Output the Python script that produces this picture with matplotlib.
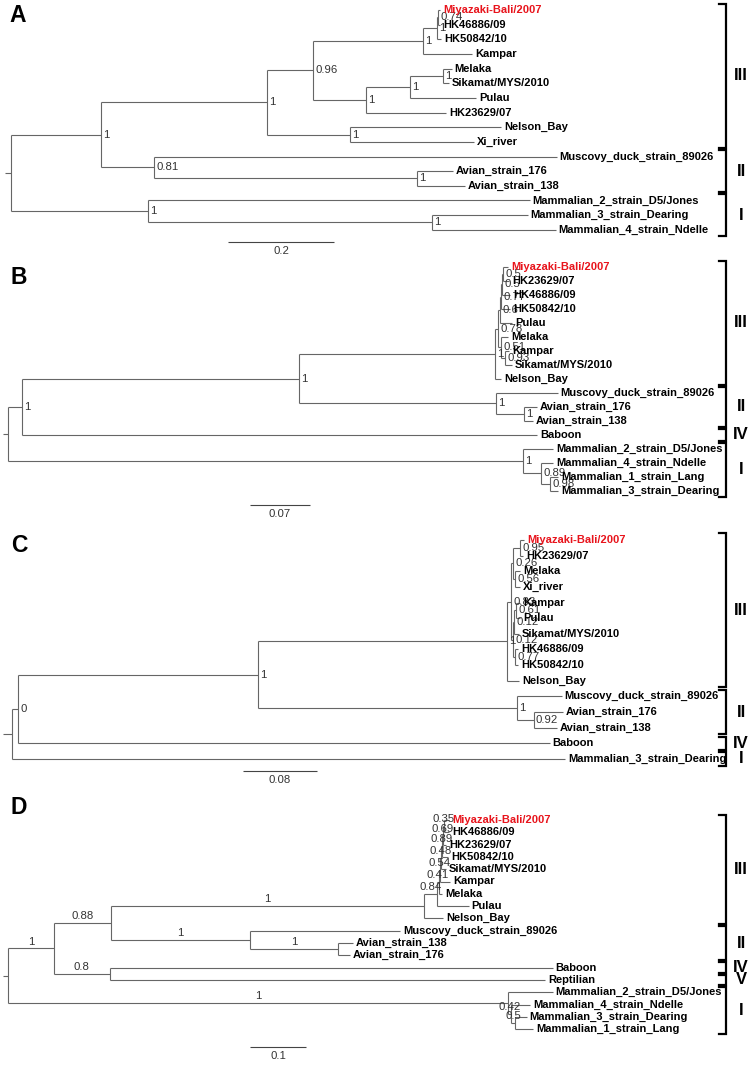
import matplotlib.pyplot as plt

plt.rcParams['font.family'] = ['Liberation Sans', 'DejaVu Sans']

W, H = 754, 1065
HIGHLIGHT = "Miyazaki-Bali/2007"

# trees: (node, parent, branch length, support)
tree_a = [
    ("root", None, 0, ""),
    ("X", "root", 0.170, "1"),
    ("Y", "X", 0.313, "1"),
    ("Z", "Y", 0.087, "0.96"),
    ("HK", "Z", 0.208, "1"),
    ("a438", "HK", 0.026, "1"),
    ("a074", "a438", 0.002, "0.74"),
    ("Miyazaki-Bali/2007", "a074", 0.004, ""),
    ("HK46886/09", "a074", 0.004, ""),
    ("HK50842/10", "a438", 0.0075, ""),
    ("Kampar", "HK", 0.092, ""),
    ("Mel", "Z", 0.100, "1"),
    ("a410", "Mel", 0.083, "1"),
    ("MS", "a410", 0.062, "1"),
    ("Melaka", "MS", 0.017, ""),
    ("Sikamat/MYS/2010", "MS", 0.011, ""),
    ("Pulau", "a410", 0.125, ""),
    ("HK23629/07", "Mel", 0.151, ""),
    ("NX", "Y", 0.157, "1"),
    ("Nelson_Bay", "NX", 0.285, ""),
    ("Xi_river", "NX", 0.234, ""),
    ("a081", "X", 0.100, "0.81"),
    ("Muscovy_duck_strain_89026", "a081", 0.760, ""),
    ("Av", "a081", 0.496, "1"),
    ("Avian_strain_176", "Av", 0.068, ""),
    ("Avian_strain_138", "Av", 0.091, ""),
    ("Mam", "root", 0.258, "1"),
    ("Mammalian_2_strain_D5/Jones", "Mam", 0.721, ""),
    ("M34", "Mam", 0.536, "1"),
    ("Mammalian_3_strain_Dearing", "M34", 0.181, ""),
    ("Mammalian_4_strain_Ndelle", "M34", 0.234, ""),
]

tree_b = [
    ("root", None, 0, ""),
    ("N1", "root", 0.0163, "1"),
    ("b299", "N1", 0.323, "1"),
    ("III", "b299", 0.229, "1"),
    ("n7", "III", 0.0035, "0.78"),
    ("n4", "n7", 0.0023, "0.6"),
    ("n3", "n4", 0.0012, "0.77"),
    ("n2", "n3", 0.0012, "0.5"),
    ("n1", "n2", 0.0012, "0.5"),
    ("Miyazaki-Bali/2007", "n1", 0.0058, ""),
    ("HK23629/07", "n1", 0.007, ""),
    ("HK46886/09", "n2", 0.0093, ""),
    ("HK50842/10", "n3", 0.0105, ""),
    ("Pulau", "n4", 0.014, ""),
    ("n6", "n7", 0.0035, "0.51"),
    ("Melaka", "n6", 0.0082, ""),
    ("n5", "n6", 0.0047, "0.93"),
    ("Kampar", "n5", 0.0047, ""),
    ("Sikamat/MYS/2010", "n5", 0.0082, ""),
    ("Nelson_Bay", "III", 0.007, ""),
    ("II", "b299", 0.230, "1"),
    ("Muscovy_duck_strain_89026", "II", 0.0723, ""),
    ("Av", "II", 0.0327, "1"),
    ("Avian_strain_176", "Av", 0.0152, ""),
    ("Avian_strain_138", "Av", 0.0105, ""),
    ("Baboon", "N1", 0.601, ""),
    ("Mam", "root", 0.601, "1"),
    ("Mammalian_2_strain_D5/Jones", "Mam", 0.035, ""),
    ("P", "Mam", 0.021, "0.89"),
    ("Mammalian_4_strain_Ndelle", "P", 0.014, ""),
    ("Q", "P", 0.0105, "0.98"),
    ("Mammalian_1_strain_Lang", "Q", 0.0093, ""),
    ("Mammalian_3_strain_Dearing", "Q", 0.0093, ""),
]

tree_c = [
    ("root", None, 0, ""),
    ("N0", "root", 0.0065, "0"),
    ("c258", "N0", 0.259, "1"),
    ("III", "c258", 0.270, "1"),
    ("c8", "III", 0.0043, "0.83"),
    ("c3", "c8", 0.0022, "0.26"),
    ("c1", "c3", 0.0076, "0.95"),
    ("Miyazaki-Bali/2007", "c1", 0.0043, ""),
    ("HK23629/07", "c1", 0.0032, ""),
    ("c2", "c3", 0.0022, "0.56"),
    ("Melaka", "c2", 0.0054, ""),
    ("Xi_river", "c2", 0.0054, ""),
    ("c7", "c8", 0.0022, "0.12"),
    ("c6", "c7", 0.0011, "0.12"),
    ("c4", "c6", 0.0022, "0.61"),
    ("Kampar", "c4", 0.0043, ""),
    ("Pulau", "c4", 0.0043, ""),
    ("Sikamat/MYS/2010", "c6", 0.0054, ""),
    ("c5", "c7", 0.0022, "0.77"),
    ("HK46886/09", "c5", 0.0032, ""),
    ("HK50842/10", "c5", 0.0032, ""),
    ("Nelson_Bay", "III", 0.013, ""),
    ("II", "c258", 0.280, "1"),
    ("Muscovy_duck_strain_89026", "II", 0.0486, ""),
    ("Av", "II", 0.0184, "0.92"),
    ("Avian_strain_176", "Av", 0.0314, ""),
    ("Avian_strain_138", "Av", 0.0249, ""),
    ("Baboon", "N0", 0.575, ""),
    ("Mammalian_3_strain_Dearing", "root", 0.598, ""),
]

tree_d = [
    ("root", None, 0, ""),
    ("D1", "root", 0.082, "1"),
    ("D2", "D1", 0.102, "0.88"),
    ("III", "D2", 0.559, "1"),
    ("R", "III", 0.023, "0.84"),
    ("d6", "R", 0.0036, "0.41"),
    ("d5", "d6", 0.0018, "0.54"),
    ("d4", "d5", 0.0018, "0.48"),
    ("d3", "d4", 0.0018, "0.89"),
    ("d2", "d3", 0.0018, "0.69"),
    ("d1", "d2", 0.0018, "0.35"),
    ("Miyazaki-Bali/2007", "d1", 0.0089, ""),
    ("HK46886/09", "d1", 0.0089, ""),
    ("HK23629/07", "d2", 0.0054, ""),
    ("HK50842/10", "d3", 0.0107, ""),
    ("Sikamat/MYS/2010", "d4", 0.0089, ""),
    ("Kampar", "d5", 0.018, ""),
    ("Melaka", "d6", 0.0054, ""),
    ("Pulau", "R", 0.057, ""),
    ("Nelson_Bay", "III", 0.034, ""),
    ("II", "D2", 0.248, "1"),
    ("Muscovy_duck_strain_89026", "II", 0.268, ""),
    ("Av", "II", 0.157, "1"),
    ("Avian_strain_138", "Av", 0.027, ""),
    ("Avian_strain_176", "Av", 0.021, ""),
    ("BR", "D1", 0.1, "0.8"),
    ("Baboon", "BR", 0.791, ""),
    ("Reptilian", "BR", 0.777, ""),
    ("Mam", "root", 0.893, "1"),
    ("Mammalian_2_strain_D5/Jones", "Mam", 0.080, ""),
    ("M2", "Mam", 0.0054, "0.42"),
    ("Mammalian_4_strain_Ndelle", "M2", 0.034, ""),
    ("M3", "M2", 0.0071, "0.5"),
    ("Mammalian_3_strain_Dearing", "M3", 0.021, ""),
    ("Mammalian_1_strain_Lang", "M3", 0.032, ""),
]

# genotype brackets: (label, first tip, last tip)
groups_a = [("III", "Miyazaki-Bali/2007", "Xi_river"),
            ("II", "Muscovy_duck_strain_89026", "Avian_strain_138"),
            ("I", "Mammalian_2_strain_D5/Jones", "Mammalian_4_strain_Ndelle")]
groups_b = [("III", "Miyazaki-Bali/2007", "Nelson_Bay"),
            ("II", "Muscovy_duck_strain_89026", "Avian_strain_138"),
            ("IV", "Baboon", "Baboon"),
            ("I", "Mammalian_2_strain_D5/Jones", "Mammalian_3_strain_Dearing")]
groups_c = [("III", "Miyazaki-Bali/2007", "Nelson_Bay"),
            ("II", "Muscovy_duck_strain_89026", "Avian_strain_138"),
            ("IV", "Baboon", "Baboon"),
            ("I", "Mammalian_3_strain_Dearing", "Mammalian_3_strain_Dearing")]
groups_d = [("III", "Miyazaki-Bali/2007", "Nelson_Bay"),
            ("II", "Muscovy_duck_strain_89026", "Avian_strain_176"),
            ("IV", "Baboon", "Baboon"),
            ("V", "Reptilian", "Reptilian"),
            ("I", "Mammalian_2_strain_D5/Jones", "Mammalian_1_strain_Lang")]

scale_lengths = [0.2, 0.07, 0.08, 0.1]

# pixel layout of each panel
panels = [
    dict(letter="A", tree=tree_a, groups=groups_a, style="node", root_px=11, y0=10, dy=14.65,
         ppu=530, band=(0, 256), root_len=0.011, bar=(228, 242), letter_xy=(18, 15)),
    dict(letter="B", tree=tree_b, groups=groups_b, style="node", root_px=8, y0=267, dy=14.0,
         ppu=857, band=(256, 520), root_len=0.006, bar=(250, 505), letter_xy=(19, 278)),
    dict(letter="C", tree=tree_c, groups=groups_c, style="node", root_px=12, y0=540, dy=15.64,
         ppu=925, band=(520, 785), root_len=0.01, bar=(243, 771), letter_xy=(19, 545)),
    dict(letter="D", tree=tree_d, groups=groups_d, style="edge", root_px=8, y0=820, dy=12.3,
         ppu=560, band=(785, 1065), root_len=0.009, bar=(250, 1047), letter_xy=(19, 808)),
]

LINE = '#666666'
SUP = '#333333'


def layout_tree(edges):
    children, length, support, parent = {}, {}, {}, {}
    root = None
    for node, par, bl, sup in edges:
        length[node] = bl
        support[node] = sup
        parent[node] = par
        if par is None:
            root = node
        else:
            children.setdefault(par, []).append(node)
    xs, ys, tips = {}, {}, []

    def walk(n, x):
        xs[n] = x
        kids = children.get(n, [])
        for k in kids:
            walk(k, x + length[k])
        if kids:
            ys[n] = (ys[kids[0]] + ys[kids[-1]]) / 2
        else:
            ys[n] = len(tips)
            tips.append(n)

    walk(root, 0.0)
    return root, children, parent, xs, ys, tips, support


fig = plt.figure(figsize=(W / 100, H / 100), dpi=100)

for p, sb_len in zip(panels, scale_lengths):
    top, bot = p['band']
    ax = fig.add_axes([0, 1 - bot / H, 1, (bot - top) / H])
    ax.axis('off')
    ax.set_xlim(-p['root_px'] / p['ppu'], (W - p['root_px']) / p['ppu'])
    ax.set_ylim((bot - p['y0']) / p['dy'], (top - p['y0']) / p['dy'])

    root, children, parent, xs, ys, tips, support = layout_tree(p['tree'])

    # branches
    for n, kids in children.items():
        ax.vlines(xs[n], ys[kids[0]], ys[kids[-1]], color=LINE, lw=0.8)
        for k in kids:
            ax.hlines(ys[k], xs[n], xs[k], color=LINE, lw=0.8)
    ax.hlines(ys[root], -p['root_len'], 0, color=LINE, lw=0.8)

    # support values
    for n in children:
        if n == root or not support[n]:
            continue
        if p['style'] == 'node':
            ax.annotate(support[n], (xs[n], ys[n]), xytext=(1.5, 0), textcoords='offset points',
                        ha='left', va='center', fontsize=8.2, color=SUP)
        else:
            xm = (xs[parent[n]] + xs[n]) / 2
            ax.annotate(support[n], (xm, ys[n]), xytext=(0, 1.2), textcoords='offset points',
                        ha='center', va='bottom', fontsize=8.2, color=SUP)

    # tip labels
    for t in tips:
        ax.annotate(t, (xs[t], ys[t]), xytext=(2, 0), textcoords='offset points',
                    ha='left', va='center', fontsize=8, fontweight='bold',
                    color='#e8141c' if t == HIGHLIGHT else 'black')

    # genotype brackets
    tr = ax.get_yaxis_transform()
    bx = 726 / W
    tick = 7 / W
    tip_idx = {t: i for i, t in enumerate(tips)}
    for lab, first, last in p['groups']:
        y1 = tip_idx[first] - 0.42
        y2 = tip_idx[last] + 0.42
        ax.plot([bx - tick, bx, bx, bx - tick], [y1, y1, y2, y2], color='black', lw=1.6,
                transform=tr, solid_joinstyle='miter')
        ax.text(741 / W, (y1 + y2) / 2, lab, transform=tr, ha='center', va='center',
                fontsize=12, fontweight='bold')

    # scale bar
    sx = (p['bar'][0] - p['root_px']) / p['ppu']
    sy = (p['bar'][1] - p['y0']) / p['dy']
    ax.hlines(sy, sx, sx + sb_len, color='#444444', lw=0.8)
    ax.annotate(f"{sb_len:g}", (sx + sb_len / 2, sy), xytext=(0, -3), textcoords='offset points',
                ha='center', va='top', fontsize=8.2, color=SUP, annotation_clip=False,
                clip_on=True)

    lx, ly = p['letter_xy']
    fig.text(lx / W, 1 - ly / H, p['letter'], ha='center', va='center',
             fontsize=16.5, fontweight='bold')

fig.savefig('out.png', dpi=100)
